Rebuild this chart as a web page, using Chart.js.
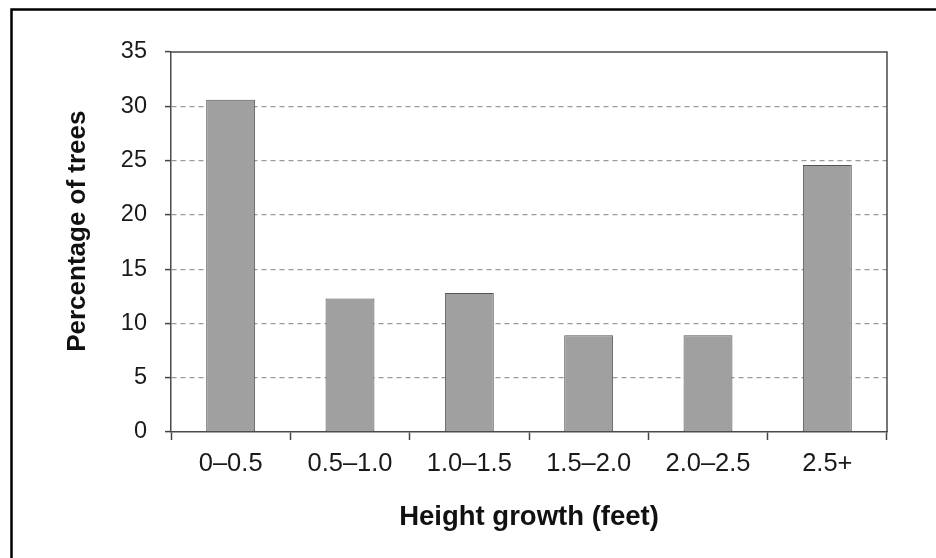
<!DOCTYPE html>
<html>
<head>
<meta charset="utf-8">
<script src="https://cdn.jsdelivr.net/npm/chart.js@4/dist/chart.umd.min.js"></script>
<style>
  html, body { margin: 0; padding: 0; background: #fff; }
  #wrap { width: 936px; height: 558px; position: relative; }
</style>
</head>
<body>
<div id="wrap"><canvas id="c" width="936" height="558"></canvas></div>
<script>
const categories = ["0\u20130.5", "0.5\u20131.0", "1.0\u20131.5", "1.5\u20132.0", "2.0\u20132.5", "2.5+"];
const percentages = [30.6, 12.3, 12.8, 8.9, 8.9, 24.6];
const yMin = 0, yMax = 35, yStep = 5;
const xTitle = "Height growth (feet)";
const yTitle = "   Percentage of trees";

const FONT = "'Liberation Sans', Arial, Helvetica, sans-serif";

const framePlugin = {
  id: 'frames',
  beforeDraw(chart) {
    const ctx = chart.ctx;
    ctx.save();
    ctx.fillStyle = '#fff';
    ctx.fillRect(0, 0, chart.width, chart.height);
    ctx.strokeStyle = '#000';
    ctx.lineWidth = 2.5;
    ctx.beginPath();
    ctx.moveTo(11.5, chart.height);
    ctx.lineTo(11.5, 9.5);
    ctx.lineTo(chart.width, 9.5);
    ctx.stroke();
    ctx.restore();
  },
  afterDraw(chart) {
    const a = chart.chartArea;
    const ctx = chart.ctx;
    ctx.save();
    ctx.strokeStyle = '#4a4a4a';
    ctx.lineWidth = 1.5;
    ctx.beginPath();
    ctx.moveTo(a.left, a.top);
    ctx.lineTo(a.right, a.top);
    ctx.lineTo(a.right, a.bottom);
    ctx.stroke();
    ctx.restore();
  }
};

new Chart(document.getElementById('c'), {
  type: 'bar',
  data: {
    labels: categories,
    datasets: [{
      data: percentages,
      backgroundColor: '#a0a0a0',
      borderColor: '#555555',
      borderWidth: 1,
      borderSkipped: false,
      categoryPercentage: 1.0,
      barPercentage: 0.41
    }]
  },
  options: {
    responsive: false,
    animation: false,
    devicePixelRatio: 1,
    layout: { padding: { left: 0, right: 49, top: 52, bottom: 0 } },
    plugins: { legend: { display: false }, tooltip: { enabled: false } },
    scales: {
      x: {
        afterFit(scale) { scale.height = 126; },
        grid: {
          offset: true,
          drawOnChartArea: false,
          drawTicks: true,
          tickLength: 8,
          tickColor: '#444',
          tickWidth: 1.5
        },
        border: { color: '#4a4a4a', width: 1.5 },
        ticks: {
          color: '#1a1a1a',
          font: { family: FONT, size: 25.5 },
          padding: 9,
          maxRotation: 0,
          autoSkip: false
        },
        title: {
          display: true,
          text: xTitle,
          color: '#111',
          font: { family: FONT, size: 27.5, weight: 'bold' },
          padding: { top: 0, bottom: 24 }
        }
      },
      y: {
        min: yMin,
        max: yMax,
        afterFit(scale) { scale.width = 171; },
        grid: {
          color: (ctx) => (ctx.tick && (ctx.tick.value === yMin || ctx.tick.value === yMax)) ? 'rgba(0,0,0,0)' : '#9a9a9a',
          lineWidth: 1.2,
          drawTicks: true,
          tickLength: 6,
          tickColor: '#444',
          tickWidth: 1.5,
          tickBorderDash: []
        },
        border: { color: '#4a4a4a', width: 1.5, dash: [5, 4] },
        ticks: {
          stepSize: yStep,
          color: '#1a1a1a',
          font: { family: FONT, size: 23.5 },
          padding: 18
        },
        title: {
          display: true,
          text: yTitle,
          color: '#111',
          font: { family: FONT, size: 26, weight: 'bold' },
          padding: { top: 62, bottom: 0 }
        }
      }
    }
  },
  plugins: [framePlugin]
});
</script>
</body>
</html>
